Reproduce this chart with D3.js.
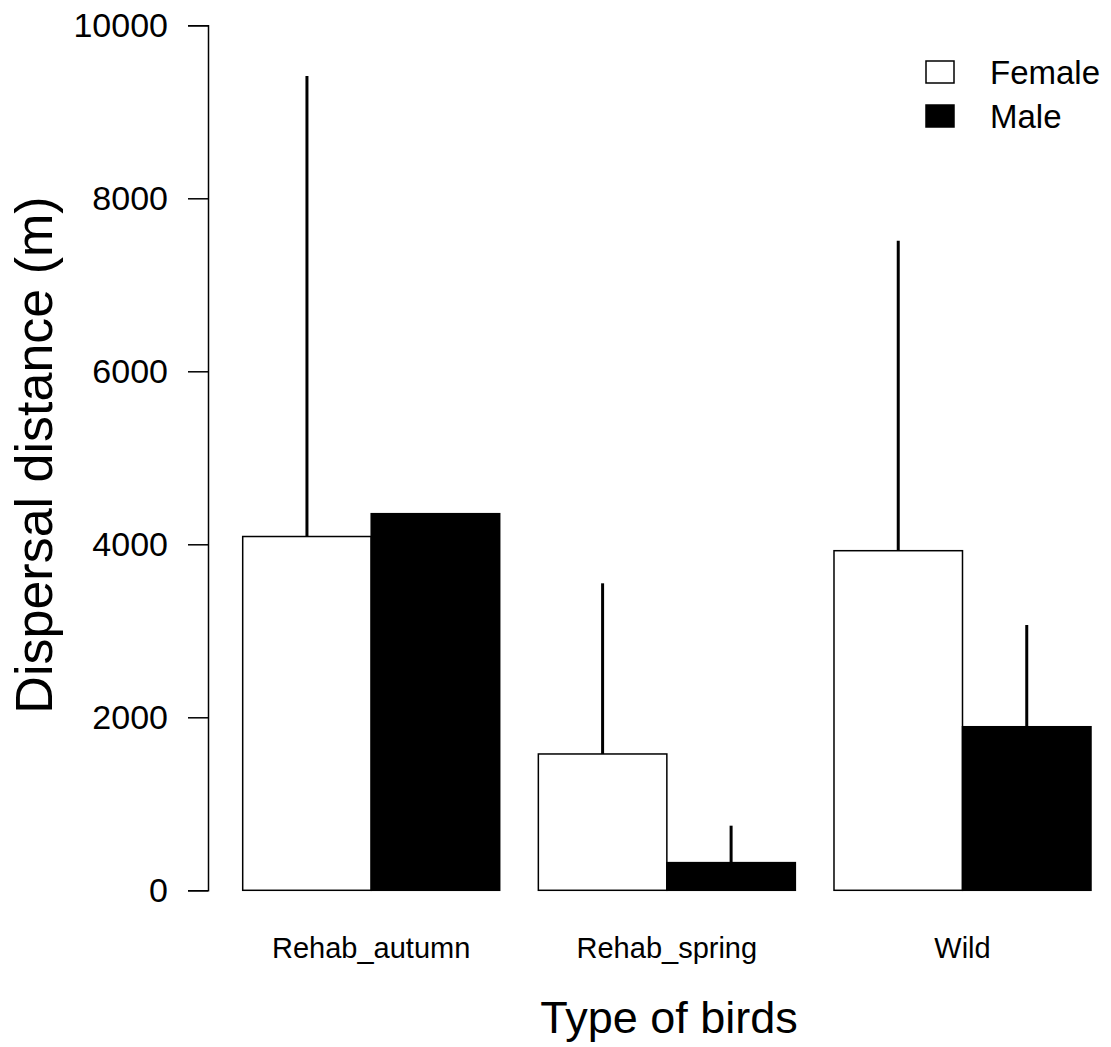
<!DOCTYPE html>
<html>
<head>
<meta charset="utf-8">
<script src="https://cdn.jsdelivr.net/npm/d3@7"></script>
<style>
  body { margin: 0; background: #fff; }
  text { font-family: "Liberation Sans", Arial, sans-serif; fill: #000; }
</style>
</head>
<body>
<script>
// values
const categories = ["Rehab_autumn", "Rehab_spring", "Wild"];
const sexes = ["Female", "Male"];
const femaleMean = [4090, 1576, 3926];
const maleMean = [4354, 320, 1891];
const femaleErr = [5324, 1973, 3584];
const maleErr = [0, 427, 1176];
const yTicks = [0, 2000, 4000, 6000, 8000, 10000];

function draw(){
  const W = 1111, H = 1047;
  const svg = d3.select("body").append("svg")
    .attr("width", W).attr("height", H);

  const y = d3.scaleLinear().domain([0, 10000]).range([890.3, 25.3]);
  const x = d3.scaleBand().domain(categories).range([242.7, 1091]).paddingInner(0.1307).paddingOuter(0);
  const xs = d3.scaleBand().domain(sexes).range([0, x.bandwidth()]);
  const fill = d3.scaleOrdinal().domain(sexes).range(["#fff", "#000"]);

  // build rows from the arrays
  const rows = [];
  categories.forEach((c, i) => {
    rows.push({cat: c, sex: "Female", v: femaleMean[i], e: femaleErr[i]});
    rows.push({cat: c, sex: "Male", v: maleMean[i], e: maleErr[i]});
  });

  // y axis
  const yAxis = d3.axisLeft(y).tickValues(yTicks).tickFormat(d3.format("d"))
    .tickSize(20).tickSizeOuter(20).tickPadding(20);
  const ga = svg.append("g").attr("transform", "translate(208,0)").call(yAxis);
  ga.select(".domain").attr("stroke", "#000").attr("stroke-width", 1.5);
  ga.selectAll(".tick line").attr("stroke", "#000").attr("stroke-width", 1.5);
  ga.selectAll(".tick text").attr("font-size", 34).attr("font-family", "Liberation Sans").attr("fill", "#000");

  // error bars (upper only) drawn first, bars over them
  svg.selectAll("line.err")
    .data(rows.filter(d => d.e > 0))
    .join("line")
    .attr("class", "err")
    .attr("x1", d => x(d.cat) + xs(d.sex) + xs.bandwidth() / 2)
    .attr("x2", d => x(d.cat) + xs(d.sex) + xs.bandwidth() / 2)
    .attr("y1", d => y(d.v))
    .attr("y2", d => y(d.v + d.e))
    .attr("stroke", "#000")
    .attr("stroke-width", 3);

  svg.selectAll("rect.bar")
    .data(rows)
    .join("rect")
    .attr("class", "bar")
    .attr("x", d => x(d.cat) + xs(d.sex))
    .attr("y", d => y(d.v))
    .attr("width", xs.bandwidth())
    .attr("height", d => y(0) - y(d.v))
    .attr("fill", d => fill(d.sex))
    .attr("stroke", "#000")
    .attr("stroke-width", 1.5);

  // category labels
  svg.selectAll("text.cat")
    .data(categories)
    .join("text")
    .attr("class", "cat")
    .attr("x", d => x(d) + x.bandwidth() / 2)
    .attr("y", 958)
    .attr("text-anchor", "middle")
    .attr("font-size", 29)
    .text(d => d);

  // axis titles
  svg.append("text")
    .attr("x", 669).attr("y", 1033)
    .attr("text-anchor", "middle")
    .attr("font-size", 45)
    .text("Type of birds");

  svg.append("text")
    .attr("transform", "translate(52,455) rotate(-90)")
    .attr("text-anchor", "middle")
    .attr("font-size", 52)
    .text("Dispersal distance (m)");

  // legend
  const lg = svg.selectAll("g.leg")
    .data(sexes)
    .join("g")
    .attr("class", "leg")
    .attr("transform", (d, i) => `translate(926,${61 + i * 44})`);
  lg.append("rect")
    .attr("width", 28).attr("height", 22)
    .attr("fill", d => fill(d))
    .attr("stroke", "#000").attr("stroke-width", 1.5);
  lg.append("text")
    .attr("x", 64).attr("y", 23)
    .attr("font-size", 33)
    .text(d => d);
}

draw();
</script>
</body>
</html>
